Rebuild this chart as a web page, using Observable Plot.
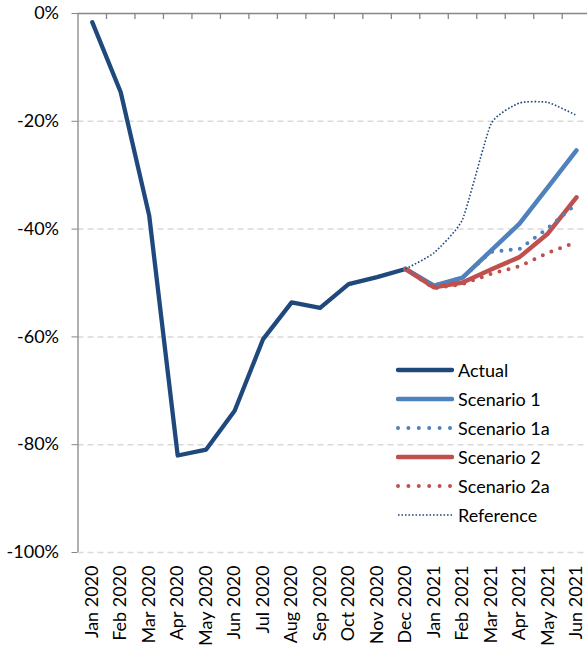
<!DOCTYPE html>
<html>
<head>
<meta charset="utf-8">
<script src="https://cdn.jsdelivr.net/npm/d3@7"></script>
<script src="https://cdn.jsdelivr.net/npm/@observablehq/plot@0.6"></script>
<style>
  html, body { margin: 0; padding: 0; background: #fff; }
  #wrap { position: relative; width: 587px; height: 649px; overflow: hidden; font-family: Lato, "Open Sans", sans-serif; }
  #legend { position: absolute; left: 396px; top: 355px; }
  .row { display: flex; align-items: center; height: 29.1px; font-size: 18px; color: #000; }
  .row svg { margin-right: 4px; }
</style>
</head>
<body>
<div id="wrap"><div id="legend"></div></div>
<script>
const months = ["Jan 2020","Feb 2020","Mar 2020","Apr 2020","May 2020","Jun 2020","Jul 2020","Aug 2020","Sep 2020","Oct 2020","Nov 2020","Dec 2020","Jan 2021","Feb 2021","Mar 2021","Apr 2021","May 2021","Jun 2021"];
const actual = [-1.6, -14.6, -37.5, -82.0, -80.9, -73.7, -60.4, -53.6, -54.6, -50.2, -48.9, -47.4];
// forecast series run from Dec 2020 to Jun 2021
const forecastStart = "Dec 2020";
const scenario1  = [-47.4, -50.5, -49.0, -44.0, -39.0, -32.2, -25.4];
const scenario1a = [-47.4, -50.5, -49.0, -44.2, -43.7, -39.8, -35.3];
const scenario2  = [-47.4, -50.8, -49.9, -47.5, -45.2, -40.8, -34.1];
const scenario2a = [-47.4, -51.0, -50.2, -48.3, -46.9, -44.4, -42.4];
const reference  = [-47.4, -44.4, -38.2, -20.5, -16.6, -16.5, -18.9];
const yTicks = [0, -20, -40, -60, -80, -100];
const seriesNames = ["Actual", "Scenario 1", "Scenario 1a", "Scenario 2", "Scenario 2a", "Reference"];

const navy = "#1F497D", blue = "#4F81BD", red = "#C0504D", axisGray = "#868686";
const styles = {
  "Actual":      {stroke: navy, strokeWidth: 4.3},
  "Scenario 1":  {stroke: blue, strokeWidth: 4.5},
  "Scenario 1a": {stroke: blue, strokeWidth: 4, strokeDasharray: "0 9.3"},
  "Scenario 2":  {stroke: red,  strokeWidth: 4.5},
  "Scenario 2a": {stroke: red,  strokeWidth: 4, strokeDasharray: "0 9.3"},
  "Reference":   {stroke: navy, strokeWidth: 1.6, strokeDasharray: "1.6 1.9", strokeLinecap: "butt"}
};

const startIdx = months.indexOf(forecastStart);
const toRows = (vals, offset) => vals.map((v, k) => ({i: offset + k, v}));
const seriesData = {
  "Actual": toRows(actual, 0),
  "Scenario 1": toRows(scenario1, startIdx),
  "Scenario 1a": toRows(scenario1a, startIdx),
  "Scenario 2": toRows(scenario2, startIdx),
  "Scenario 2a": toRows(scenario2a, startIdx),
  "Reference": toRows(reference, startIdx)
};
const drawOrder = ["Actual", "Scenario 1", "Scenario 2", "Scenario 1a", "Scenario 2a", "Reference"];
const boundaries = d3.range(months.length).map(i => i + 0.5);

const lineMark = name => Plot.line(seriesData[name], {
  x: "i", y: "v",
  strokeLinecap: "round", strokeLinejoin: "round",
  curve: name === "Reference" ? d3.curveCardinal.tension(0.5) : "linear",
  ...styles[name]
});

const chart = Plot.plot({
  width: 587,
  height: 649,
  marginLeft: 77.5,
  marginRight: 0,
  marginTop: 13,
  marginBottom: 97,
  style: {fontFamily: "Lato, 'Open Sans', sans-serif", fontSize: "18px", color: "#000", background: "#fff"},
  x: {domain: [-0.5, months.length - 0.5], range: [77.5, 590.2]},
  y: {domain: [-100, 0], range: [552, 13]},
  marks: [
    Plot.ruleY(yTicks.filter(d => d !== 0), {stroke: "#d9d9d9", strokeWidth: 1.5, strokeDasharray: "6 4"}),
    Plot.ruleX([-0.5], {stroke: axisGray, strokeWidth: 1.3}),
    Plot.ruleY([0], {stroke: axisGray, strokeWidth: 1.3}),
    Plot.ruleX(boundaries, {y1: 0, y2: 0, insetBottom: -6, stroke: axisGray, strokeWidth: 1.3}),
    Plot.axisY({ticks: yTicks, tickSize: 6, tickPadding: 13, tickFormat: d => `${d}%`, stroke: axisGray, fill: "#000", label: null, fontSize: 18}),
    Plot.axisX({ticks: d3.range(months.length), tickFormat: i => months[i], tickRotate: -90, tickSize: 0, tickPadding: 13, fill: "#000", label: null, fontSize: 18}),
    ...drawOrder.map(lineMark)
  ]
});
const wrap = document.getElementById("wrap");
wrap.insertBefore(chart, wrap.firstChild);

// legend
const legend = d3.select("#legend");
seriesNames.forEach(name => {
  const s = styles[name];
  const row = legend.append("div").attr("class", "row");
  const svg = row.append("svg").attr("width", 58).attr("height", 12);
  svg.append("line")
    .attr("x1", 2).attr("x2", 56).attr("y1", 6).attr("y2", 6)
    .attr("stroke", s.stroke).attr("stroke-width", s.strokeWidth)
    .attr("stroke-dasharray", name === "Reference" ? "1.6 1.9" : (s.strokeDasharray ? "0 10.4" : null))
    .attr("stroke-linecap", s.strokeLinecap || "round");
  row.append("span").text(name);
});
</script>
</body>
</html>
